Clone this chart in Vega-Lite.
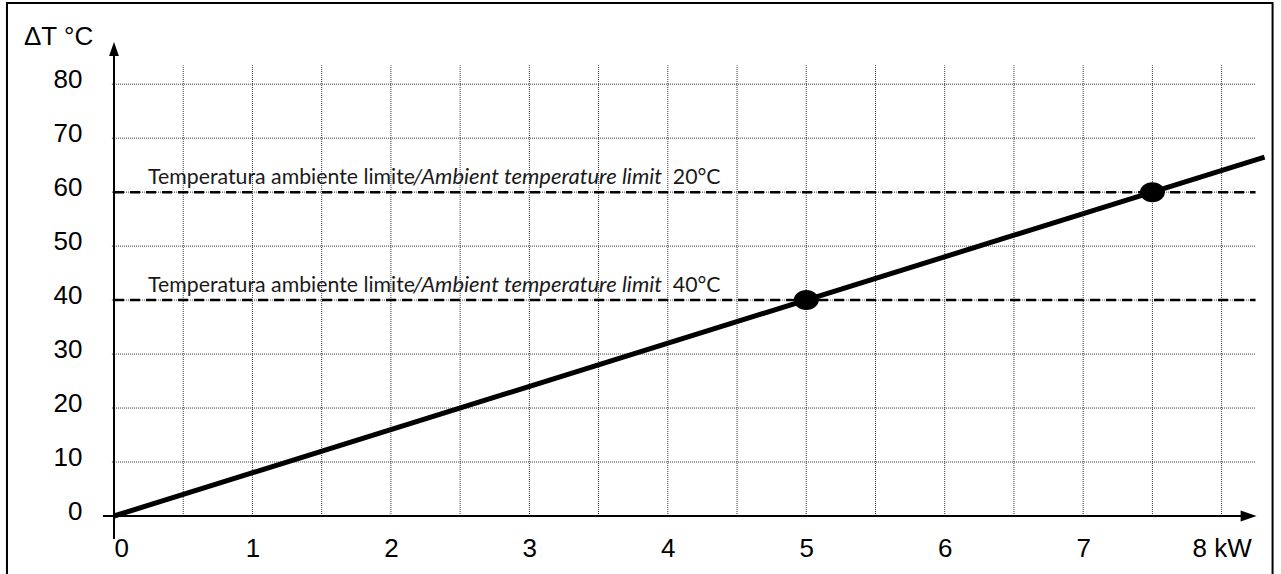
{
  "$schema": "https://vega.github.io/schema/vega-lite/v6.json",
  "width": 1163,
  "height": 475,
  "autosize": {"type": "none"},
  "padding": {"left": 114, "top": 41, "right": 4, "bottom": 58},
  "background": "white",
  "config": {
    "view": {"stroke": null},
    "axis": {"domain": false, "ticks": false, "grid": false, "title": null, "labelFont": "Liberation Sans", "labelFontSize": 26, "labelColor": "#000"}
  },
  "datasets": {
    "frame": [{"x0": -0.773, "x1": 8.368, "y0": -12, "y1": 95.03}],
    "gridv": [
      {"x": 0.5, "y0": 0, "y1": 83.5}, {"x": 1, "y0": 0, "y1": 83.5}, {"x": 1.5, "y0": 0, "y1": 83.5}, {"x": 2, "y0": 0, "y1": 83.5},
      {"x": 2.5, "y0": 0, "y1": 83.5}, {"x": 3, "y0": 0, "y1": 83.5}, {"x": 3.5, "y0": 0, "y1": 83.5}, {"x": 4, "y0": 0, "y1": 83.5},
      {"x": 4.5, "y0": 0, "y1": 83.5}, {"x": 5, "y0": 0, "y1": 83.5}, {"x": 5.5, "y0": 0, "y1": 83.5}, {"x": 6, "y0": 0, "y1": 83.5},
      {"x": 6.5, "y0": 0, "y1": 83.5}, {"x": 7, "y0": 0, "y1": 83.5}, {"x": 7.5, "y0": 0, "y1": 83.5}, {"x": 8, "y0": 0, "y1": 83.5}
    ],
    "gridh": [
      {"y": 10, "x0": -0.015, "x1": 8.245}, {"y": 20, "x0": -0.015, "x1": 8.245}, {"y": 30, "x0": -0.015, "x1": 8.245}, {"y": 40, "x0": -0.015, "x1": 8.245},
      {"y": 50, "x0": -0.015, "x1": 8.245}, {"y": 60, "x0": -0.015, "x1": 8.245}, {"y": 70, "x0": -0.015, "x1": 8.245}, {"y": 80, "x0": -0.015, "x1": 8.245}
    ],
    "dashed": [{"y": 60, "x0": 0, "x1": 8.245}, {"y": 40, "x0": 0, "x1": 8.245}],
    "axes": [{"x0": -0.08, "x1": 8.19, "y0": 0, "y1": 0}, {"x0": 0, "x1": 0, "y0": -4.26, "y1": 86.5}],
    "arrowUp": [{"x": 0, "y": 86.5}],
    "arrowRight": [{"x": 8.195, "y": 0}],
    "curve": [{"kw": 0, "dt": 0}, {"kw": 8.31, "dt": 66.5}],
    "pts": [{"kw": 5, "dt": 40}, {"kw": 7.5, "dt": 60}],
    "t1": [{"t": "Temperatura ambiente limite", "x": 0.2455, "y": 61.5}, {"t": "Temperatura ambiente limite", "x": 0.2455, "y": 41.5}],
    "t2": [{"t": "/Ambient temperature limit", "x": 2.16, "y": 61.5}, {"t": "/Ambient temperature limit", "x": 2.16, "y": 41.5}],
    "t3": [{"t": "20°C", "x": 4.036, "y": 61.5}, {"t": "40°C", "x": 4.036, "y": 41.5}],
    "title": [{"t": "ΔT °C", "x": -0.65, "y": 87.25}]
  },
  "layer": [
    {
      "data": {"name": "frame"},
      "mark": {"type": "rect", "fillOpacity": 0, "stroke": "black", "strokeWidth": 2},
      "encoding": {
        "x": {"field": "x0", "type": "quantitative", "scale": {"domain": [0, 8.4], "nice": false, "zero": false}},
        "x2": {"field": "x1"},
        "y": {"field": "y0", "type": "quantitative", "scale": {"domain": [0, 88], "nice": false, "zero": false}},
        "y2": {"field": "y1"}
      }
    },
    {
      "data": {"name": "gridv"},
      "mark": {"type": "rule", "color": "#333", "strokeWidth": 1, "strokeDash": [1, 1]},
      "encoding": {
        "x": {"field": "x", "type": "quantitative", "axis": {"values": [0, 1, 2, 3, 4, 5, 6, 7, 8], "labelExpr": "datum.value == 8 ? '8 kW' : format(datum.value, 'd')", "labelAlign": {"condition": {"test": "datum.value === 0", "value": "left"}, "value": "center"}, "labelPadding": 19}},
        "y": {"field": "y0", "type": "quantitative"},
        "y2": {"field": "y1"}
      }
    },
    {
      "data": {"name": "gridh"},
      "mark": {"type": "rule", "color": "#333", "strokeWidth": 1, "strokeDash": [1, 1]},
      "encoding": {
        "y": {"field": "y", "type": "quantitative", "axis": {"values": [0, 10, 20, 30, 40, 50, 60, 70, 80], "labelPadding": 32, "labelOffset": -5}},
        "x": {"field": "x0", "type": "quantitative"},
        "x2": {"field": "x1"}
      }
    },
    {
      "data": {"name": "dashed"},
      "mark": {"type": "rule", "color": "black", "strokeWidth": 2.5, "strokeDash": [10, 6]},
      "encoding": {
        "y": {"field": "y", "type": "quantitative"},
        "x": {"field": "x0", "type": "quantitative"},
        "x2": {"field": "x1"}
      }
    },
    {
      "data": {"name": "axes"},
      "mark": {"type": "rule", "color": "black", "strokeWidth": 2},
      "encoding": {
        "x": {"field": "x0", "type": "quantitative"},
        "x2": {"field": "x1"},
        "y": {"field": "y0", "type": "quantitative"},
        "y2": {"field": "y1"}
      }
    },
    {
      "data": {"name": "arrowUp"},
      "mark": {"type": "point", "shape": "M0,-1L0.7,1L-0.7,1Z", "size": 196, "filled": true, "color": "black", "opacity": 1},
      "encoding": {
        "x": {"field": "x", "type": "quantitative"},
        "y": {"field": "y", "type": "quantitative"}
      }
    },
    {
      "data": {"name": "arrowRight"},
      "mark": {"type": "point", "shape": "M1,0L-1,-0.7L-1,0.7Z", "size": 256, "filled": true, "color": "black", "opacity": 1},
      "encoding": {
        "x": {"field": "x", "type": "quantitative"},
        "y": {"field": "y", "type": "quantitative"}
      }
    },
    {
      "data": {"name": "curve"},
      "mark": {"type": "line", "color": "black", "strokeWidth": 5, "strokeCap": "butt"},
      "encoding": {
        "x": {"field": "kw", "type": "quantitative"},
        "y": {"field": "dt", "type": "quantitative"}
      }
    },
    {
      "data": {"name": "pts"},
      "mark": {"type": "point", "shape": "M-1,0A1,0.8 0 1,0 1,0A1,0.8 0 1,0 -1,0Z", "size": 625, "filled": true, "color": "black", "opacity": 1},
      "encoding": {
        "x": {"field": "kw", "type": "quantitative"},
        "y": {"field": "dt", "type": "quantitative"}
      }
    },
    {
      "data": {"name": "t1"},
      "mark": {"type": "text", "font": "Lato", "fontSize": 21.3, "align": "left", "baseline": "alphabetic", "color": "#1a1a1a"},
      "encoding": {
        "x": {"field": "x", "type": "quantitative"},
        "y": {"field": "y", "type": "quantitative"},
        "text": {"field": "t"}
      }
    },
    {
      "data": {"name": "t2"},
      "mark": {"type": "text", "font": "Lato", "fontSize": 22, "fontStyle": "italic", "align": "left", "baseline": "alphabetic", "color": "#1a1a1a"},
      "encoding": {
        "x": {"field": "x", "type": "quantitative"},
        "y": {"field": "y", "type": "quantitative"},
        "text": {"field": "t"}
      }
    },
    {
      "data": {"name": "t3"},
      "mark": {"type": "text", "font": "Lato", "fontSize": 21.3, "align": "left", "baseline": "alphabetic", "color": "#1a1a1a"},
      "encoding": {
        "x": {"field": "x", "type": "quantitative"},
        "y": {"field": "y", "type": "quantitative"},
        "text": {"field": "t"}
      }
    },
    {
      "data": {"name": "title"},
      "mark": {"type": "text", "font": "Liberation Sans", "fontSize": 26, "align": "left", "baseline": "alphabetic", "color": "black"},
      "encoding": {
        "x": {"field": "x", "type": "quantitative"},
        "y": {"field": "y", "type": "quantitative"},
        "text": {"field": "t"}
      }
    }
  ]
}
